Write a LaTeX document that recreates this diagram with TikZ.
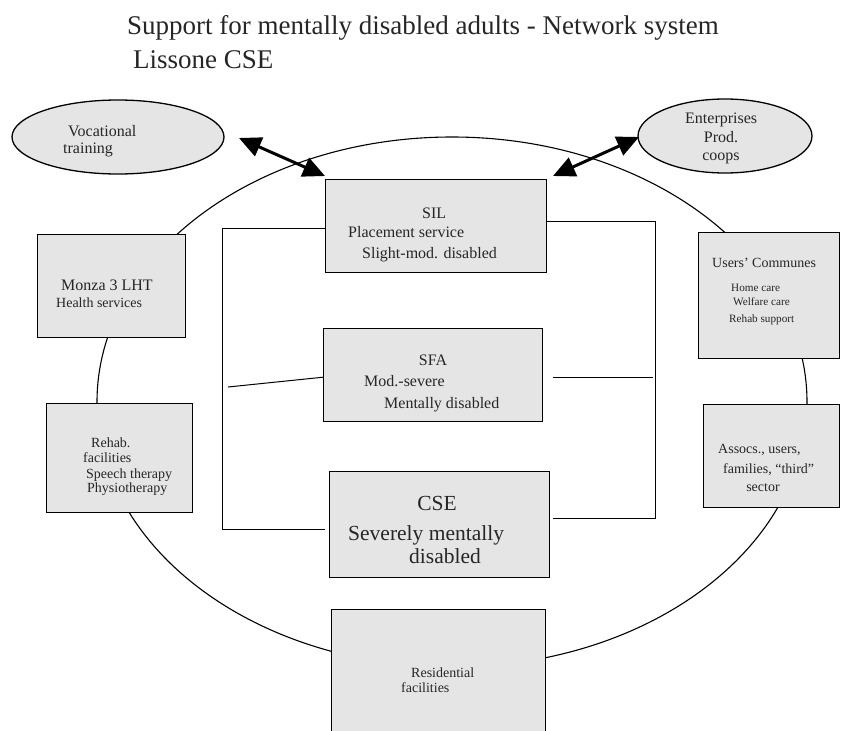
\documentclass[tikz,border=0pt]{standalone}
\usepackage{fontspec}
\setmainfont{Liberation Serif}
\usetikzlibrary{arrows.meta,shapes.geometric}
\begin{document}
\begin{tikzpicture}[x=1pt,y=-1pt,
  box/.style={draw=black, line width=1.3pt, fill=gray!20, inner sep=0pt, anchor=north west},
  oval/.style={draw=black, line width=1.3pt, fill=gray!20, ellipse, inner sep=0pt},
  txt/.style={inner sep=0pt, anchor=base west, text=black!85},
  ctxt/.style={inner sep=0pt, anchor=base, text=black!85},
  link/.style={line width=1pt},
  bigarrow/.style={line width=3pt, {Triangle[length=22pt,width=20pt]}-{Triangle[length=22pt,width=20pt]}},
  fA/.style={font=\fontsize{27}{30}\selectfont},
  fB/.style={font=\fontsize{16}{19}\selectfont},
  fC/.style={font=\fontsize{14}{16}\selectfont},
  fD/.style={font=\fontsize{11.2}{13}\selectfont},
  fE/.style={font=\fontsize{21.5}{25}\selectfont}
]
\useasboundingbox (0,0) rectangle (841,731);

% big ring
\node[draw=black, line width=1.1pt, ellipse, inner sep=0pt, minimum width=710pt, minimum height=530pt] (ring) at (452,402) {};

% bracket connectors
\coordinate (slL) at (325,228);
\coordinate (lc) at (222,529);
\coordinate (clL) at (325,529);
\coordinate (mlA) at (228,387);
\coordinate (mlB) at (325,377);
\coordinate (srR) at (546,221);
\coordinate (rc) at (655,518);
\coordinate (crR) at (553,518);
\coordinate (mrA) at (553,377);
\coordinate (mrB) at (653,377);
\draw[link] (slL) -| (lc) -- (clL);
\draw[link] (srR) -| (rc) -- (crR);
\draw[link] (mlA) -- (mlB);
\draw[link] (mrA) -- (mrB);

% ovals
\node[oval, minimum width=212pt, minimum height=74pt] (voc) at (118,137) {};
\node[oval, minimum width=174pt, minimum height=74pt] (ent) at (725,136) {};

% boxes
\node[box, minimum width=221pt, minimum height=93pt] (sil) at (325,179) {};
\node[box, minimum width=148pt, minimum height=103pt] (monza) at (37,234) {};
\node[box, minimum width=141pt, minimum height=126pt] (users) at (698,232) {};
\node[box, minimum width=219pt, minimum height=93pt] (sfa) at (323,328) {};
\node[box, minimum width=146pt, minimum height=109pt] (rehab) at (46,403) {};
\node[box, minimum width=136pt, minimum height=103pt] (assoc) at (703,404) {};
\node[box, minimum width=220pt, minimum height=106pt] (cse) at (329,471) {};
\node[box, minimum width=214pt, minimum height=140pt] (resid) at (331,609) {};

% title
\node[txt, fA] (t1) at (127,34) {Support for mentally disabled adults - Network system};
\node[txt, fA] (t2) at (133,68) {Lissone CSE};

% oval texts
\node[txt, fB] (voc1) at (68,136) {Vocational};
\node[txt, fB] (voc2) at (63,153) {training};
\node[txt, fB] (ent1) at (685,123) {Enterprises};
\node[ctxt, fB] (ent2) at (721,142) {Prod.};
\node[ctxt, fB] (ent3) at (721,160) {coops};

% SIL
\node[txt, fB] (sil1) at (422,218) {SIL};
\node[txt, fB] (sil2) at (348,237) {Placement service};
\node[txt, fB] (sil3) at (362,258) {Slight-mod. disabled};

% Monza
\node[txt, fB] (mo1) at (61,290) {Monza 3 LHT};
\node[txt, fC] (mo2) at (56,307) {Health\ services};

% Users
\node[txt, fC] (us1) at (712,267) {Users’ Communes};
\node[txt, fD] (us2) at (731,291) {Home care};
\node[txt, fD] (us3) at (733,305) {Welfare care};
\node[txt, fD] (us4) at (729,322) {Rehab support};

% SFA
\node[ctxt, fB] (sf1) at (433,365) {SFA};
\node[txt, fB] (sf2) at (364,386) {Mod.-severe};
\node[txt, fB] (sf3) at (384,408) {Mentally disabled};

% Rehab
\node[txt, fC] (re1) at (91,447) {Rehab.};
\node[txt, fC] (re2) at (83,462) {facilities};
\node[txt, fC] (re3) at (86,478) {Speech therapy};
\node[txt, fC] (re4) at (87,492) {Physiotherapy};

% Assocs
\node[txt, fC] (as1) at (718,453) {Assocs., users,};
\node[txt, fC] (as2) at (723,473) {families, “third”};
\node[ctxt, fC] (as3) at (763,491) {sector};

% CSE
\node[ctxt, fE] (cs1) at (437,510) {CSE};
\node[txt, fE] (cs2) at (348,540) {Severely mentally};
\node[txt, fE] (cs3) at (409,563) {disabled};

% Residential
\node[txt, fC] (rs1) at (411,677) {Residential};
\node[txt, fC] (rs2) at (401,692) {facilities};

% arrows
\coordinate (aL1) at (239,138);
\coordinate (aL2) at (325,176);
\coordinate (aR1) at (553,176);
\coordinate (aR2) at (639,137);
\draw[bigarrow] (aL1) -- (aL2);
\draw[bigarrow] (aR1) -- (aR2);
\end{tikzpicture}
\end{document}
